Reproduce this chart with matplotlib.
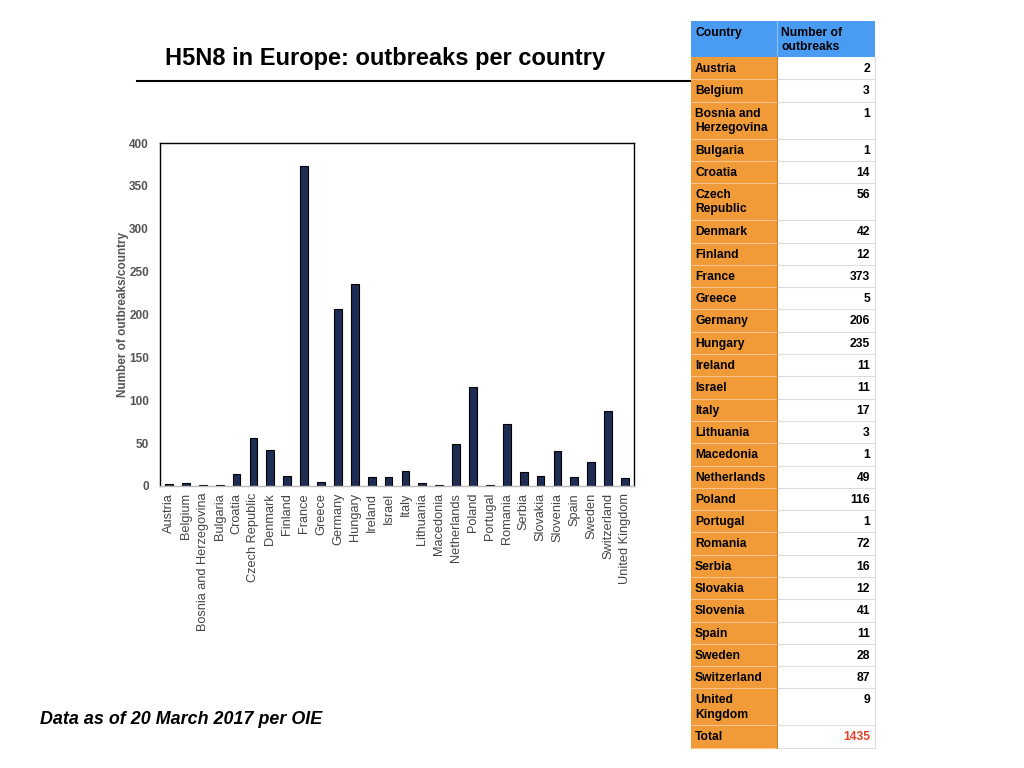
import textwrap
import matplotlib
matplotlib.use("Agg")
import matplotlib.pyplot as plt
from matplotlib.patches import Rectangle

plt.rcParams['font.family'] = ['Liberation Sans', 'DejaVu Sans']

countries = ["Austria", "Belgium", "Bosnia and Herzegovina", "Bulgaria", "Croatia",
             "Czech Republic", "Denmark", "Finland", "France", "Greece", "Germany",
             "Hungary", "Ireland", "Israel", "Italy", "Lithuania", "Macedonia",
             "Netherlands", "Poland", "Portugal", "Romania", "Serbia", "Slovakia",
             "Slovenia", "Spain", "Sweden", "Switzerland", "United Kingdom"]
outbreaks = [2, 3, 1, 1, 14, 56, 42, 12, 373, 5, 206, 235, 11, 11, 17, 3, 1,
             49, 116, 1, 72, 16, 12, 41, 11, 28, 87, 9]
total = sum(outbreaks)

title = "H5N8 in Europe: outbreaks per country"
note = "Data as of 20 March 2017 per OIE"
ylabel = "Number of outbreaks/country"
yticks = [0, 50, 100, 150, 200, 250, 300, 350, 400]

W, H = 1024, 768
fig = plt.figure(figsize=(10.24, 7.68), dpi=100)
fig.patch.set_facecolor("white")

# ---- bar chart
ax = fig.add_axes([160 / W, 1 - 486 / H, 474 / W, 343 / H])
x = range(len(countries))
ax.bar(x, outbreaks, width=0.46, color="#1f2d55", edgecolor="black", linewidth=0.8)
ax.set_xlim(-0.53, len(countries) - 0.47)
ax.set_ylim(0, 400)
ax.set_yticks(yticks)
ax.set_yticklabels([str(v) for v in yticks], fontsize=8.5, fontweight="bold", color="#555555")
ax.set_xticks(list(x))
ax.set_xticklabels(countries, rotation=90, fontsize=9.2, color="#444444")
ax.tick_params(length=0, pad=8)
ax.tick_params(axis="x", pad=5)
for s in ax.spines.values():
    s.set_linewidth(1.0)
    s.set_color("black")
ax.spines["bottom"].set_color("#bbbbbb")
ax.set_ylabel(ylabel, fontsize=8.5, fontweight="bold", color="#555555", labelpad=0)

# ---- title, rule, note
fig.text(165 / W, 1 - 58 / H, title, fontsize=17, fontweight="bold", va="center", ha="left")
fig.add_artist(plt.Line2D([137 / W, 690 / W], [1 - 81 / H, 1 - 81 / H], color="black", lw=1.5))
fig.text(40 / W, 1 - 720 / H, note, fontsize=12.9, fontweight="bold", style="italic",
         va="center", ha="left")

# ---- table on the right (pixel coordinates)
tx0, tx1, tx2 = 691, 777, 875
tab = fig.add_axes([0, 0, 1, 1], zorder=5)
tab.set_xlim(0, W)
tab.set_ylim(H, 0)
tab.axis("off")

blue = "#4a9cf3"
orange = "#f09a38"
h1, h2 = 22.3, 37.0
top = 21
head_h = 36

tab.add_patch(Rectangle((tx0, top), tx2 - tx0, head_h, facecolor=blue, edgecolor="none"))
tab.plot([tx1, tx1], [top, top + head_h], color="#8cc0f7", lw=0.8)
tab.text(tx0 + 4, top + 6, "Country", fontsize=8.7, fontweight="bold", va="top", ha="left")
tab.text(tx1 + 4, top + 6, "Number of\noutbreaks", fontsize=8.7, fontweight="bold",
         va="top", ha="left", linespacing=1.2)

rows = [(textwrap.fill(c, 11), str(v), "black") for c, v in zip(countries, outbreaks)]
rows.append(("Total", str(total), "#e0442a"))

y = top + head_h
for label, val, vcol in rows:
    h = h2 if "\n" in label else h1
    tab.add_patch(Rectangle((tx0, y), tx1 - tx0, h, facecolor=orange, edgecolor="none"))
    tab.add_patch(Rectangle((tx1, y), tx2 - tx1, h, facecolor="white", edgecolor="none"))
    tab.plot([tx0, tx1], [y + h, y + h], color="#f6c48a", lw=0.8)
    tab.plot([tx1, tx2], [y + h, y + h], color="#dddddd", lw=0.8)
    tab.text(tx0 + 4, y + 6, label, fontsize=8.7, fontweight="bold", va="top", ha="left",
             linespacing=1.25)
    tab.text(tx2 - 5, y + 6, val, fontsize=8.7, fontweight="bold", va="top", ha="right",
             color=vcol)
    y += h
tab.plot([tx1, tx1], [top + head_h, y], color="#c8842e", lw=0.8)
tab.plot([tx2, tx2], [top + head_h, y], color="#dddddd", lw=0.8)

fig.savefig("out.png", dpi=100)
